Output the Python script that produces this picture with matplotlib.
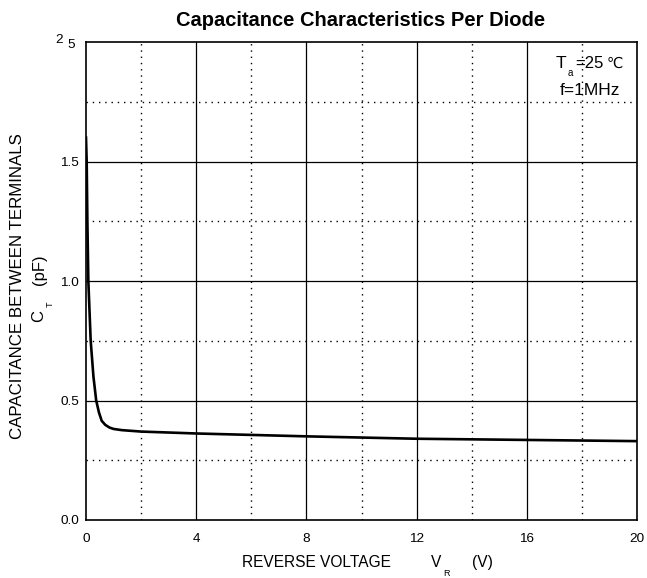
import matplotlib
matplotlib.use("Agg")
import matplotlib.pyplot as plt

plt.rcParams['font.family'] = ['Liberation Sans', 'DejaVu Sans']

# Curve (V_R in volts, C_T in pF)
voltage = [0, 0.025, 0.05, 0.085, 0.17, 0.27, 0.37, 0.47, 0.57, 0.7, 0.85, 1.0, 1.3, 2, 4, 8, 12, 16, 20]
capacitance = [1.6, 1.5, 1.25, 1.0, 0.75, 0.6, 0.5, 0.45, 0.415, 0.398, 0.387, 0.381, 0.376, 0.37, 0.362, 0.35, 0.34, 0.335, 0.33]

xTicks = [0, 4, 8, 12, 16, 20]
xMinor = [2, 6, 10, 14, 18]
yTicks = [0.0, 0.5, 1.0, 1.5, 2.0]
yTickLabels = ["0.0", "0.5", "1.0", "1.5", ""]
yMinor = [0.25, 0.75, 1.25, 1.75]

W, H = 647, 578


def px(x, y):
    # pixel position (from top left) to figure fraction
    return x / W, 1 - y / H


fig = plt.figure(figsize=(W / 100, H / 100), dpi=100)
ax = fig.add_axes([86 / W, 1 - 520 / H, (637 - 86) / W, (520 - 42) / H])

ax.set_xlim(0, 20)
ax.set_ylim(0, 2.0)

# Grid: solid majors, dotted minors
for x in xTicks[1:-1]:
    ax.axvline(x, color='black', linewidth=0.9, zorder=1)
for y in yTicks[1:-1]:
    ax.axhline(y, color='black', linewidth=0.9, zorder=1)
for x in xMinor:
    ax.axvline(x, color='black', linewidth=1.0, linestyle=(0, (1, 3.5)), zorder=1)
for y in yMinor:
    ax.axhline(y, color='black', linewidth=1.0, linestyle=(0, (1, 3.5)), zorder=1)

ax.plot(voltage, capacitance, color='black', linewidth=1.9, zorder=3,
        solid_joinstyle='round')

ax.set_xticks(xTicks)
ax.set_yticks(yTicks)
ax.set_yticklabels(yTickLabels)
ax.tick_params(length=0, labelsize=9.7)
ax.tick_params(axis='x', pad=9)
ax.tick_params(axis='y', pad=5)
for s in ax.spines.values():
    s.set_linewidth(1.2)

# odd top label "2 5" as in the reference
fig.text(*px(59.5, 40), "2", fontsize=9.7, ha='center', va='center')
fig.text(*px(71, 45), "5", fontsize=9.7, ha='center', va='center')

# title
fig.text(*px(361, 26), "Capacitance Characteristics Per Diode", fontsize=14.5,
         fontweight='bold', ha='center', va='baseline')

# x label with subscript
fig.text(*px(242, 567), "REVERSE VOLTAGE", fontsize=11.2, ha='left', va='baseline')
fig.text(*px(431, 567), "V", fontsize=11.2, ha='left', va='baseline')
fig.text(*px(446, 573), "R", fontsize=6.5, ha='center', va='center')
fig.text(*px(472, 567), "(V)", fontsize=11.2, ha='left', va='baseline')

# y label (two lines, second with subscript)
fig.text(*px(17.5, 286), "CAPACITANCE BETWEEN TERMINALS", fontsize=12.2,
         rotation=90, ha='center', va='center')
fig.text(*px(39, 316), "C", fontsize=12, rotation=90, ha='center', va='center')
fig.text(*px(50, 304.5), "T", fontsize=6.5, rotation=90, ha='center', va='center')
fig.text(*px(39, 270), "(pF)", fontsize=12, rotation=90, ha='center', va='center')

# conditions
fig.text(*px(556, 68), "T", fontsize=12.5, ha='left', va='baseline')
fig.text(*px(570, 73), "a", fontsize=7, ha='center', va='center')
fig.text(*px(575, 68), "=25", fontsize=12, ha='left', va='baseline')
fig.text(*px(623, 68), "\u2103", fontsize=10.5, ha='right', va='baseline')
fig.text(*px(620, 95), "f=1MHz", fontsize=12.5, ha='right', va='baseline')

fig.savefig("out.png", dpi=100)
